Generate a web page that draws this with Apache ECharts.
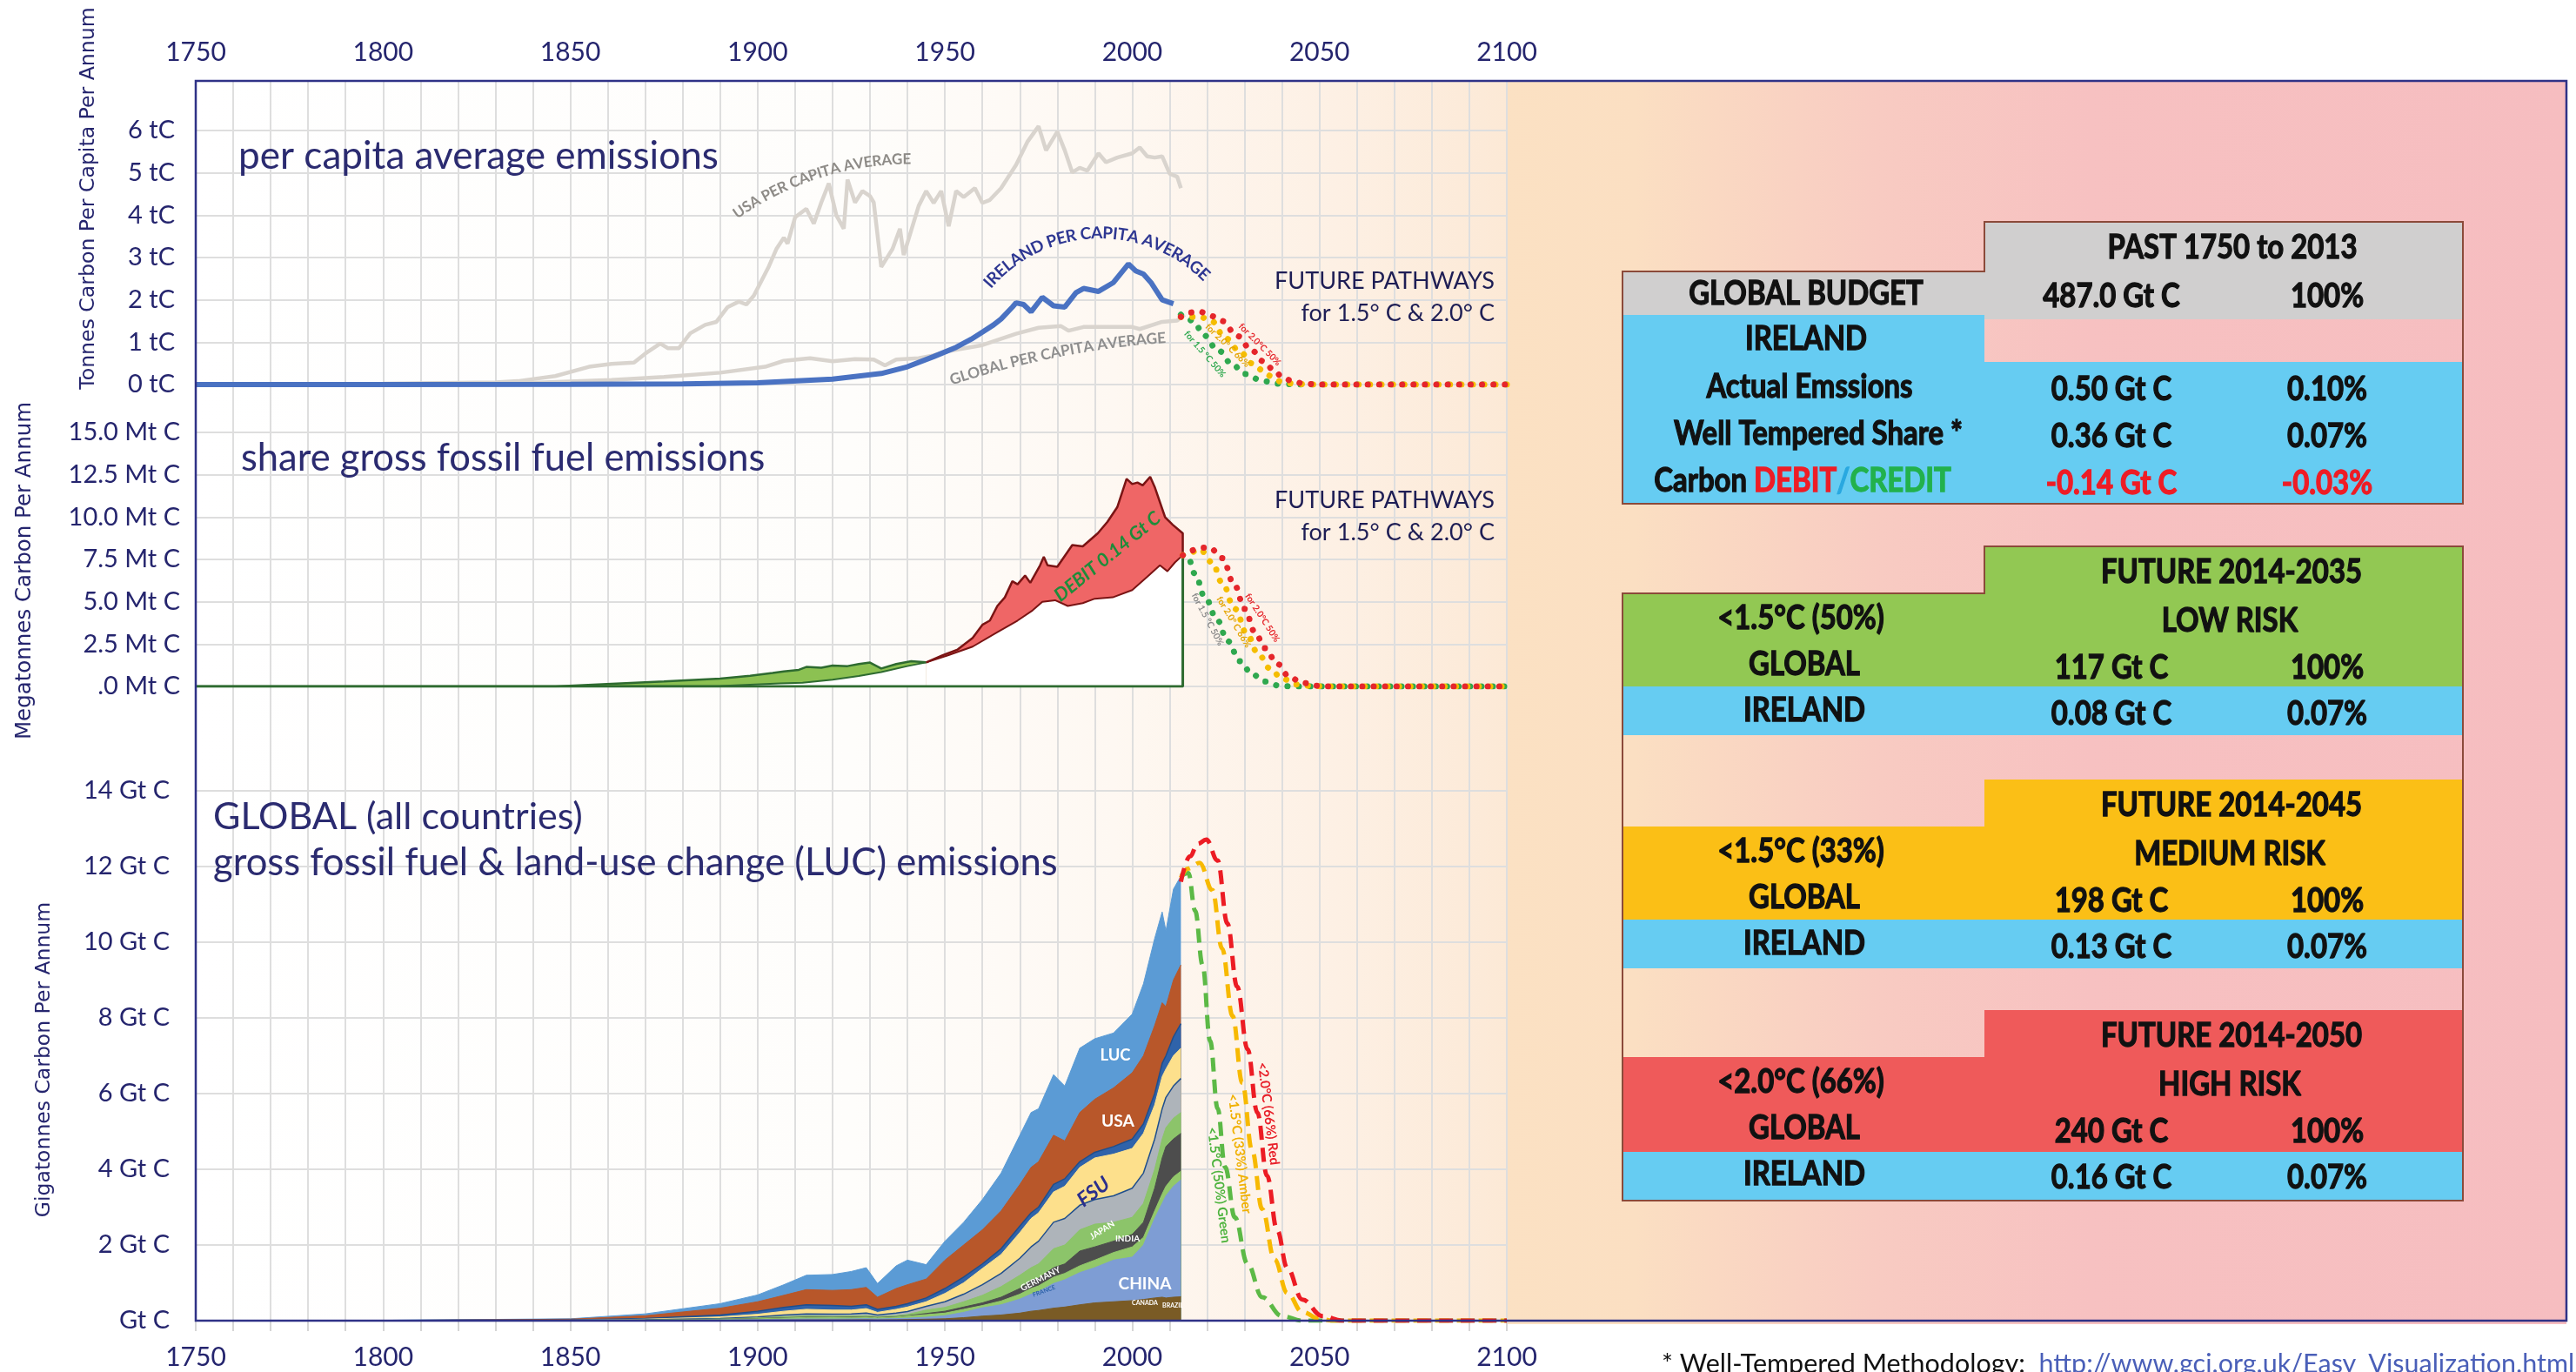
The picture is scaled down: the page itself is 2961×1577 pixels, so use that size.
<!DOCTYPE html>
<html>
<head>
<meta charset="utf-8">
<script src="https://cdn.jsdelivr.net/npm/echarts@6.0.0/dist/echarts.min.js"></script>
<style>
  html, body { margin: 0; padding: 0; background: #fff; }
  #chart { width: 2961px; height: 1577px; }
</style>
</head>
<body>
<div id="chart"></div>
<script>
const SANS = "Lato, 'Open Sans', sans-serif";
const WIDE = "'DejaVu Sans', sans-serif";
const NAVY = '#25256e';
const GRIDLINE = '#dedede';

// panel 1 - per capita, tonnes carbon per person per year
const usaPcYears = [1800, 1830, 1836, 1846, 1855, 1861, 1867, 1870, 1874, 1876, 1879, 1882, 1886, 1889, 1892, 1895, 1897, 1899, 1903, 1905,
  1907, 1908, 1910, 1913, 1915, 1917, 1919, 1921, 1923, 1924, 1926, 1928, 1930, 1931, 1933, 1935, 1936, 1938, 1939, 1943,
  1945, 1947, 1949, 1951, 1953, 1955, 1958, 1960, 1962, 1965, 1969, 1972, 1975, 1977, 1980, 1982, 1984, 1986, 1988, 1991,
  1993, 1996, 2000, 2002, 2004, 2006, 2008, 2010, 2012, 2013];
const usaPcValues = [0.02, 0.05, 0.08, 0.2, 0.42, 0.49, 0.52, 0.73, 0.97, 0.86, 0.86, 1.21, 1.41, 1.48, 1.83, 1.96, 1.89, 2.1, 2.79, 3.2,
  3.47, 3.33, 3.95, 4.15, 3.8, 4.3, 4.75, 4.0, 3.68, 4.84, 4.3, 4.57, 4.45, 4.3, 2.78, 3.06, 3.2, 3.68, 3.06, 4.22,
  4.57, 4.29, 4.57, 3.74, 4.57, 4.43, 4.64, 4.29, 4.36, 4.64, 5.19, 5.73, 6.1, 5.53, 5.97, 5.53, 5.01, 5.12, 5.05, 5.46,
  5.25, 5.36, 5.46, 5.6, 5.39, 5.36, 5.39, 4.98, 4.91, 4.64];
const globalPcYears = [1750, 1800, 1840, 1861, 1875, 1890, 1902, 1907, 1914, 1920, 1926, 1931, 1934, 1937, 1943, 1947, 1951, 1960, 1969, 1975,
  1981, 1983, 1987, 2000, 2002, 2008, 2012, 2014];
const globalPcValues = [0, 0.01, 0.04, 0.11, 0.18, 0.28, 0.42, 0.56, 0.62, 0.55, 0.6, 0.59, 0.45, 0.59, 0.62, 0.69, 0.79, 0.93, 1.2, 1.34,
  1.38, 1.27, 1.36, 1.36, 1.31, 1.48, 1.51, 1.65];
const irlPcYears = [1750, 1800, 1850, 1880, 1900, 1920, 1933, 1940, 1947, 1953, 1957, 1960, 1963, 1965, 1968, 1969, 1971, 1973, 1976, 1979,
  1982, 1985, 1987, 1991, 1995, 1999, 2001, 2003, 2005, 2008, 2011];
const irlPcValues = [0, 0, 0.005, 0.015, 0.04, 0.13, 0.26, 0.42, 0.66, 0.88, 1.07, 1.24, 1.41, 1.55, 1.83, 1.93, 1.89, 1.72, 2.06, 1.86,
  1.83, 2.17, 2.27, 2.2, 2.41, 2.85, 2.68, 2.61, 2.41, 2.0, 1.91];
// future per capita pathways
const pcGreenYears = [2013, 2015, 2017, 2019, 2023, 2027, 2030, 2035, 2039, 2045, 2100];
const pcGreenValues = [1.65, 1.55, 1.4, 1.17, 0.8, 0.45, 0.25, 0.08, 0.02, 0, 0];
const pcAmberYears = [2013, 2015, 2018, 2021, 2025, 2029, 2032, 2035, 2037, 2040, 2044, 2050, 2100];
const pcAmberValues = [1.6, 1.6, 1.6, 1.51, 1.09, 0.75, 0.5, 0.33, 0.2, 0.06, 0.01, 0, 0];
const pcRedYears = [2013, 2015, 2018, 2021, 2024, 2028, 2032, 2035, 2038, 2040, 2043, 2046, 2050, 2100];
const pcRedValues = [1.6, 1.7, 1.72, 1.62, 1.5, 1.15, 0.8, 0.55, 0.33, 0.18, 0.07, 0.02, 0, 0];

// panel 2 - Ireland share, Mt C per year
const upGreenYears = [1750, 1800, 1846, 1861, 1875, 1890, 1898, 1904, 1907, 1911, 1913, 1917, 1920, 1924, 1927, 1930, 1933, 1937, 1941, 1945];
const upGreenValues = [0, 0, 0, 0.15, 0.29, 0.46, 0.63, 0.8, 0.89, 0.98, 1.15, 1.1, 1.23, 1.2, 1.32, 1.41, 1.06, 1.32, 1.49, 1.42];
const lowGreenYears = [1750, 1850, 1890, 1906, 1912, 1920, 1927, 1933, 1940, 1945];
const lowGreenValues = [0, 0, 0.03, 0.18, 0.22, 0.4, 0.62, 0.85, 1.2, 1.42];
const upRedYears = [1945, 1949.4, 1953.4, 1957.4, 1960, 1962, 1964, 1966, 1968, 1969.4, 1971.4, 1972.8, 1975.4, 1976.4, 1977.4, 1980, 1984, 1986.8, 1990.8, 1993.4,
  1996, 1998.5, 2000, 2001.4, 2002.8, 2004.8, 2006, 2008.8, 2010.8, 2013.5, 2013.5];
const upRedValues = [1.42, 1.84, 2.18, 2.86, 3.64, 3.89, 4.75, 5.26, 6.21, 6.03, 6.55, 6.12, 7.15, 7.66, 7.15, 7.06, 8.35, 8.27, 9.04, 9.72,
  10.58, 12.26, 11.95, 12.04, 11.87, 12.38, 11.78, 9.98, 9.55, 9.04, 7.75];
const lowRedYears = [1945, 1950.8, 1957.4, 1964, 1969.4, 1973.4, 1976, 1979.4, 1982.8, 1986.8, 1990, 1994.8, 2000, 2004, 2007.4, 2009.4, 2011.4, 2013.5];
const lowRedValues = [1.42, 1.84, 2.35, 3.2, 3.89, 4.49, 5.0, 5.09, 4.75, 4.92, 5.18, 5.26, 5.69, 6.47, 7.15, 6.8, 7.32, 7.75];
const shareBaseYears = [1750, 2013.5, 2013.5];
const shareBaseValues = [0, 0, 7.75];
const shGreenYears = [2013.5, 2014.8, 2016.8, 2019.4, 2022.8, 2025.4, 2028.8, 2032, 2035.4, 2039.4, 2043, 2100];
const shGreenValues = [7.75, 7.66, 6.64, 5.26, 3.89, 2.69, 1.49, 0.72, 0.29, 0.04, 0, 0];
const shAmberYears = [2013.5, 2015.4, 2018, 2021.4, 2024, 2027.4, 2030.8, 2033.4, 2036.8, 2040, 2044, 2048, 2052, 2100];
const shAmberValues = [7.75, 7.9, 8.1, 7.32, 6.12, 4.58, 3.03, 2.0, 1.06, 0.46, 0.12, 0.03, 0, 0];
const shRedYears = [2013.5, 2015.4, 2018, 2020.7, 2024, 2027.4, 2030, 2032.8, 2035.4, 2038.8, 2042, 2045.4, 2049.4, 2053, 2100];
const shRedValues = [7.75, 8.0, 8.2, 8.18, 7.58, 5.95, 4.58, 3.2, 2.26, 1.32, 0.55, 0.21, 0.04, 0, 0];

// panel 3 - global emissions, Gt C per year, cumulative layer tops (bottom layer last)
const p3Years = [1750, 1800, 1850, 1870, 1890, 1900, 1907, 1913, 1920, 1925, 1929, 1932, 1937, 1940, 1945, 1950, 1955, 1960, 1965, 1970,
  1973, 1975, 1979, 1982, 1986, 1990, 1995, 2000, 2003, 2006, 2008, 2009, 2011, 2013];
const lucTop = [0, 0.01, 0.05, 0.18, 0.45, 0.68, 0.95, 1.2, 1.22, 1.3, 1.4, 0.98, 1.45, 1.6, 1.48, 2.1, 2.6, 3.2, 3.9, 4.9,
  5.5, 5.6, 6.5, 6.2, 7.2, 7.45, 7.6, 8.1, 8.9, 10.1, 10.8, 10.3, 11.4, 11.75];
const usaTop = [0, 0.005, 0.04, 0.13, 0.33, 0.5, 0.67, 0.82, 0.8, 0.82, 0.88, 0.62, 0.85, 0.95, 1.1, 1.6, 2.0, 2.4, 2.9, 3.6,
  4.05, 4.2, 4.9, 4.75, 5.5, 5.85, 6.15, 6.55, 7.0, 7.8, 8.4, 8.3, 9.0, 9.4];
const ukTop = [0, 0.003, 0.02, 0.06, 0.15, 0.25, 0.35, 0.42, 0.4, 0.38, 0.42, 0.3, 0.38, 0.45, 0.6, 0.85, 1.15, 1.5, 1.9, 2.5,
  2.85, 3.0, 3.6, 3.75, 4.2, 4.45, 4.6, 4.8, 5.2, 6.0, 6.8, 7.0, 7.5, 7.85];
const fsuTop = [0, 0.002, 0.012, 0.04, 0.1, 0.17, 0.25, 0.3, 0.28, 0.28, 0.32, 0.22, 0.3, 0.36, 0.5, 0.72, 1.0, 1.38, 1.75, 2.33,
  2.7, 2.85, 3.4, 3.55, 4.05, 4.3, 4.4, 4.55, 4.95, 5.7, 6.45, 6.65, 7.0, 7.2];
const otherTop = [0, 0.001, 0.008, 0.025, 0.06, 0.1, 0.15, 0.18, 0.17, 0.18, 0.2, 0.15, 0.2, 0.24, 0.38, 0.5, 0.7, 0.95, 1.25, 1.65,
  1.95, 2.1, 2.6, 2.7, 3.05, 3.2, 3.3, 3.5, 3.9, 4.8, 5.6, 5.9, 6.2, 6.4];
const japanTop = [0, 0.0005, 0.006, 0.018, 0.045, 0.075, 0.105, 0.125, 0.115, 0.125, 0.135, 0.105, 0.135, 0.165, 0.28, 0.35, 0.5, 0.67, 0.9, 1.2,
  1.4, 1.5, 1.9, 2.0, 2.4, 2.55, 2.6, 2.73, 3.1, 4.0, 4.8, 5.1, 5.35, 5.5];
const indiaTop = [0, 0, 0.005, 0.014, 0.035, 0.058, 0.08, 0.095, 0.09, 0.095, 0.105, 0.085, 0.105, 0.13, 0.19, 0.25, 0.36, 0.47, 0.62, 0.85,
  1.05, 1.12, 1.4, 1.5, 1.84, 1.95, 2.1, 2.28, 2.6, 3.5, 4.3, 4.6, 4.8, 4.95];
const germanyTop = [0, 0, 0.004, 0.012, 0.03, 0.05, 0.07, 0.085, 0.08, 0.085, 0.095, 0.075, 0.095, 0.12, 0.16, 0.2, 0.3, 0.4, 0.52, 0.7,
  0.85, 0.92, 1.15, 1.25, 1.45, 1.6, 1.8, 1.95, 2.2, 2.9, 3.35, 3.55, 3.8, 3.95];
const chinaTop = [0, 0, 0.003, 0.008, 0.018, 0.028, 0.038, 0.045, 0.043, 0.047, 0.052, 0.045, 0.055, 0.065, 0.09, 0.13, 0.22, 0.34, 0.42, 0.57,
  0.7, 0.77, 0.98, 1.08, 1.27, 1.4, 1.6, 1.68, 2.0, 2.7, 3.1, 3.3, 3.55, 3.72];
const canadaTop = [0, 0, 0.002, 0.005, 0.01, 0.015, 0.018, 0.02, 0.02, 0.022, 0.025, 0.02, 0.025, 0.03, 0.04, 0.05, 0.08, 0.12, 0.15, 0.2,
  0.25, 0.27, 0.33, 0.36, 0.42, 0.47, 0.5, 0.53, 0.56, 0.6, 0.62, 0.6, 0.62, 0.63];
// future global pathways
const glGreenYears = [2013, 2015, 2016.8, 2018.8, 2020.8, 2022.8, 2024.8, 2027.4, 2030.8, 2034.7, 2040, 2045.4, 2100];
const glGreenValues = [11.75, 11.83, 10.83, 9.39, 7.39, 5.61, 4.06, 2.73, 1.5, 0.62, 0.12, 0, 0];
const glAmberYears = [2013, 2014.8, 2018, 2021.4, 2024, 2026.8, 2029.4, 2032, 2034.7, 2038, 2041.4, 2045.4, 2050, 2053.4, 2100];
const glAmberValues = [11.7, 11.94, 12.1, 11.38, 9.83, 8.05, 6.28, 4.5, 2.95, 1.62, 0.73, 0.23, 0.05, 0, 0];
const glRedYears = [2013, 2015.4, 2017.5, 2019.8, 2022.8, 2025.4, 2028, 2030.8, 2033.4, 2036, 2038.7, 2041.4, 2045.4, 2050.8, 2056, 2100];
const glRedValues = [11.6, 12.27, 12.6, 12.71, 12.16, 10.5, 8.83, 7.17, 5.5, 3.83, 2.39, 1.39, 0.56, 0.12, 0, 0];

// budget tables
const pastHeader = 'PAST 1750 to 2013';
const pastGlobal = ['GLOBAL BUDGET', '487.0 Gt C', '100%'];
const pastRows = [
  ['Actual Emssions', '0.50 Gt C', '0.10%'],
  ['Well Tempered Share *', '0.36 Gt C', '0.07%']
];
const pastBalance = ['-0.14 Gt C', '-0.03%'];
const futurePeriods = ['FUTURE 2014-2035', 'FUTURE 2014-2045', 'FUTURE 2014-2050'];
const futureRisks = ['LOW RISK', 'MEDIUM RISK', 'HIGH RISK'];
const futureTargets = ['<1.5°C (50%)', '<1.5°C (33%)', '<2.0°C (66%)'];
const futureGlobal = ['117 Gt C', '198 Gt C', '240 Gt C'];
const futureIreland = ['0.08 Gt C', '0.13 Gt C', '0.16 Gt C'];
const futureShare = ['0.07%', '0.07%', '0.07%'];
const futureColors = ['#92c853', '#fbbf16', '#ef5a5a'];

function pairs(xs, ys) { return xs.map((x, i) => [x, ys[i]]); }

function line(panel, xs, ys, lineStyle, extra) {
  return Object.assign({
    type: 'line', xAxisIndex: panel + 1, yAxisIndex: panel,
    data: pairs(xs, ys), symbol: 'none', silent: true, lineStyle: lineStyle
  }, extra || {});
}
const dots = c => ({ color: c, width: 7, type: [0.1, 13], cap: 'round' });
const dashes = c => ({ color: c, width: 5, type: [16, 9] });
const curve = { smooth: 0.4, smoothMonotone: 'x' };

const layers = [
  [lucTop, '#5b9bd5'], [usaTop, '#b8572a'], [ukTop, '#2f63aa'], [fsuTop, '#fde08c'],
  [otherTop, '#aeb4ba'], [japanTop, '#8cc46a'], [indiaTop, '#4d4d4d'], [germanyTop, '#92c86a'],
  [chinaTop, '#7e9dd4'], [canadaTop, '#7a5b25']
];

const series = [
  line(1, usaPcYears, usaPcValues, { color: '#d9d4ce', width: 4.5 }, { clip: false }),
  line(1, globalPcYears, globalPcValues, { color: '#d9d4ce', width: 4.5 }),
  line(1, irlPcYears, irlPcValues, { color: '#4a72c2', width: 6 }),
  line(1, pcGreenYears, pcGreenValues, dots('#2fa84f'), curve),
  line(1, pcAmberYears, pcAmberValues, dots('#f5bd00'), curve),
  line(1, pcRedYears, pcRedValues, dots('#e5262b'), curve),

  line(2, upGreenYears, upGreenValues, { color: '#2e6b30', width: 2.5 }, { areaStyle: { color: '#8cc152', opacity: 1 } }),
  line(2, upRedYears, upRedValues, { color: '#7a1414', width: 2.5 }, { areaStyle: { color: '#ef6666', opacity: 1 } }),
  line(2, lowGreenYears, lowGreenValues, { color: '#2e6b30', width: 2 }, { areaStyle: { color: '#ffffff', opacity: 1 } }),
  line(2, lowRedYears, lowRedValues, { color: '#7a1414', width: 2 }, { areaStyle: { color: '#ffffff', opacity: 1 } }),
  line(2, shareBaseYears, shareBaseValues, { color: '#2e6b30', width: 3 }),
  line(2, shGreenYears, shGreenValues, dots('#2fa84f'), curve),
  line(2, shAmberYears, shAmberValues, dots('#f5bd00'), curve),
  line(2, shRedYears, shRedValues, dots('#e5262b'), curve)
];
layers.forEach(([vals, color], i) => {
  const edge = i === 2 || i === 4 ? '#1f4e8c' : color;
  series.push(line(3, p3Years, vals, { color: edge, width: i === 2 || i === 4 ? 1.5 : 1 }, { areaStyle: { color: color, opacity: 1 } }));
});
series.push(line(3, glGreenYears, glGreenValues, dashes('#5cb946'), curve));
series.push(line(3, glAmberYears, glAmberValues, dashes('#f7b900'), curve));
series.push(line(3, glRedYears, glRedValues, dashes('#ec1c24'), curve));

// ---------- graphic overlay: background, frame, texts, tables
const G = [];
const measure = document.createElement('canvas').getContext('2d');
// font string sized so that the text spans the given width
function fit(text, width, weight, family) {
  const f = (weight ? weight + ' ' : '') + '100px ' + (family || SANS);
  measure.font = f;
  const size = 100 * width / measure.measureText(text).width;
  return (weight ? weight + ' ' : '') + size.toFixed(1) + 'px ' + (family || SANS);
}
function txt(x, y, text, font, fill, align, rot, extra) {
  return {
    type: 'text', x: x, y: y, z: 100, silent: true, rotation: rot || 0,
    style: Object.assign({ text: text, font: font, fill: fill, align: align || 'center', verticalAlign: 'middle' }, extra || {})
  };
}
// table cell text: heavier and a touch taller, like the condensed bold original
function cell(x, y, text, font, fill, extra) {
  const el = txt(x, y, text, font, fill, 'center', 0, Object.assign({ stroke: fill, lineWidth: 1.1 }, extra || {}));
  el.scaleY = 1.15;
  return el;
}
function box(x, y, w, h, fill) {
  return { type: 'rect', z: 40, silent: true, shape: { x: x, y: y, width: w, height: h }, style: { fill: fill } };
}
function outline(pts) {
  return { type: 'polygon', z: 45, silent: true, shape: { points: pts }, style: { fill: 'none', stroke: '#8b4a3a', lineWidth: 2 } };
}
function arcText(str, cx, cy, r, midDeg, font, fill) {
  measure.font = font;
  const chars = Array.from(str);
  const widths = chars.map(c => measure.measureText(c).width);
  const total = widths.reduce((a, b) => a + b, 0);
  let s = -total / 2;
  chars.forEach((c, i) => {
    const mid = s + widths[i] / 2;
    s += widths[i];
    const th = midDeg * Math.PI / 180 + mid / r;
    G.push(txt(cx + r * Math.cos(th), cy + r * Math.sin(th), c, font, fill, 'center', -(th + Math.PI / 2)));
  });
}
const deg = d => d * Math.PI / 180;

G.push({ type: 'rect', z: -100, silent: true, shape: { x: 225, y: 93, width: 1507, height: 1425 },
  style: { fill: { type: 'linear', x: 0, y: 0, x2: 1, y2: 0, colorStops: [
    { offset: 0, color: '#ffffff' }, { offset: 0.5, color: '#fefdfb' }, { offset: 0.7, color: '#fef8f2' },
    { offset: 0.87, color: '#fdf0e4' }, { offset: 1, color: '#fce9d6' }] } } });
G.push({ type: 'rect', z: -100, silent: true, shape: { x: 1732, y: 93, width: 1218, height: 1429 },
  style: { fill: { type: 'linear', x: 0, y: 0, x2: 1, y2: 0, colorStops: [
    { offset: 0, color: '#fbe1c3' }, { offset: 0.12, color: '#fbdfc2' }, { offset: 0.35, color: '#f8cbc2' },
    { offset: 0.55, color: '#f7c1c1' }, { offset: 1, color: '#f6bdc0' }] } } });
G.push({ type: 'rect', z: 60, silent: true, shape: { x: 225, y: 93, width: 2725, height: 1425 },
  style: { fill: 'none', stroke: '#2f3287', lineWidth: 2.5 } });

// axis titles
G.push(txt(102, 228, 'Tonnes Carbon Per Capita Per Annum', fit('Tonnes Carbon Per Capita Per Annum', 440, '', WIDE), NAVY, 'center', Math.PI / 2));
G.push(txt(29, 656, 'Megatonnes Carbon Per Annum', fit('Megatonnes Carbon Per Annum', 388, '', WIDE), NAVY, 'center', Math.PI / 2));
G.push(txt(51, 1218, 'Gigatonnes Carbon Per Annum', fit('Gigatonnes Carbon Per Annum', 363, '', WIDE), NAVY, 'center', Math.PI / 2));

// panel titles
const TITLE_C = '#2b2b70';
G.push(txt(274, 180, 'per capita average emissions', fit('per capita average emissions', 552), TITLE_C, 'left'));
G.push(txt(277, 527, 'share gross fossil fuel emissions', fit('share gross fossil fuel emissions', 602), TITLE_C, 'left'));
G.push(txt(245, 939, 'GLOBAL (all countries)', fit('GLOBAL (all countries)', 425), TITLE_C, 'left'));
G.push(txt(245, 992, 'gross fossil fuel & land-use change (LUC) emissions', fit('gross fossil fuel & land-use change (LUC) emissions', 970), TITLE_C, 'left'));
const FP = fit('FUTURE PATHWAYS', 253);
[[323, 360], [575, 612]].forEach(([a, b]) => {
  G.push(txt(1718, a, 'FUTURE PATHWAYS', FP, '#1e1e55', 'right'));
  G.push(txt(1718, b, 'for 1.5° C & 2.0° C', FP, '#1e1e55', 'right'));
});

// curved per-capita labels
arcText('USA PER CAPITA AVERAGE', 1046, 531, 348, -107.6, fit('USA PER CAPITA AVERAGE', 214, 'bold'), '#8e8b87');
arcText('IRELAND PER CAPITA AVERAGE', 1265, 440, 172, -92, fit('IRELAND PER CAPITA AVERAGE', 282, 'bold'), '#2e3792');
arcText('GLOBAL PER CAPITA AVERAGE', 1409, 1387, 1001, -101.2, fit('GLOBAL PER CAPITA AVERAGE', 251, 'bold'), '#8e8e8e');

// pathway labels
const SMALL = fit('for 2.0°C 50%', 64, 'bold');
G.push(txt(1385, 407, 'for 1.5 °C 50%', SMALL, '#2fa84f', 'center', deg(-49)));
G.push(txt(1411, 397, 'for 2.0° C 66%', SMALL, '#e3a400', 'center', deg(-44)));
G.push(txt(1448, 396, 'for 2.0°C 50%', SMALL, '#e5262b', 'center', deg(-45)));
G.push(txt(1388, 712, 'for 1.5 °C 50%', SMALL, '#8a8a8a', 'center', deg(-62)));
G.push(txt(1418, 715, 'for 2.0° C 66%', SMALL, '#e3a400', 'center', deg(-59)));
G.push(txt(1451, 710, 'for 2.0°C 50%', SMALL, '#e5262b', 'center', deg(-57)));
G.push(txt(1273, 640, 'DEBIT 0.14 Gt C', fit('DEBIT 0.14 Gt C', 150, 'italic bold'), '#1e8c3a', 'center', deg(39)));
const PATH = fit('<2.0°C (66%) Red', 119, 'bold');
G.push(txt(1458, 1280, '<2.0°C (66%) Red', PATH, '#e8202a', 'center', deg(-83)));
G.push(txt(1425, 1326, '<1.5°C (33%) Amber', PATH, '#f0b000', 'center', deg(-83)));
G.push(txt(1401, 1362, '<1.5°C (50%) Green', PATH, '#4db33d', 'center', deg(-83)));

// country labels
G.push(txt(1282, 1213, 'LUC', fit('LUC', 35, 'bold'), '#ffffff'));
G.push(txt(1285, 1289, 'USA', fit('USA', 38, 'bold'), '#ffffff'));
G.push(txt(1257, 1370, 'FSU', fit('FSU', 40, 'italic bold'), '#2b2f8c', 'center', deg(37)));
G.push(txt(1267, 1414, 'JAPAN', `bold 10px ${SANS}`, '#ffffff', 'center', deg(32)));
G.push(txt(1296, 1424, 'INDIA', `bold 10px ${SANS}`, '#ffffff'));
G.push(txt(1196, 1470, 'GERMANY', `bold 10px ${SANS}`, '#ffffff', 'center', deg(27)));
G.push(txt(1200, 1484, 'FRANCE', `bold 7px ${SANS}`, '#2f63aa', 'center', deg(20)));
G.push(txt(1316, 1476, 'CHINA', fit('CHINA', 61, 'bold'), '#ffffff'));
G.push(txt(1316, 1498, 'CANADA', `bold 7px ${SANS}`, '#ffffff'));
G.push(txt(1348, 1501, 'BRAZIL', `bold 7px ${SANS}`, '#ffffff'));

// past budget table
const TF = fit('FUTURE 2014-2035', 300, 'bold');
const GRAY = '#d0cfcf', BLUE = '#66ccf2';
G.push(box(2281, 255, 550, 112, GRAY));
G.push(box(1865, 312, 416, 50, GRAY));
G.push(box(1865, 362, 416, 54, BLUE));
G.push(box(1865, 416, 966, 163, BLUE));
G.push(outline([[2281, 255], [2831, 255], [2831, 579], [1865, 579], [1865, 312], [2281, 312]]));
const C1 = 2076, C2 = 2427, C3 = 2675;
G.push(cell(2566, 285, pastHeader, TF, '#111'));
G.push(cell(C1, 338, pastGlobal[0], TF, '#111'));
G.push(cell(C2, 341, pastGlobal[1], TF, '#111'));
G.push(cell(C3, 341, pastGlobal[2], TF, '#111'));
G.push(cell(C1, 390, 'IRELAND', TF, '#111'));
pastRows.forEach((row, i) => {
  const y = 445 + i * 54;
  G.push(cell(C1 + (i ? 14 : 4), y, row[0], TF, '#111'));
  G.push(cell(C2, y + 3, row[1], TF, '#111'));
  G.push(cell(C3, y + 3, row[2], TF, '#111'));
});
G.push(cell(C1 - 4, 553, '{a|Carbon }{r|DEBIT}{s|/}{g|CREDIT}', TF, '#111', {
  stroke: null, lineWidth: 0,
  rich: {
    a: { font: TF, fill: '#111', stroke: '#111', lineWidth: 1.1 }, r: { font: TF, fill: '#ee1c25', stroke: '#ee1c25', lineWidth: 1.1 },
    s: { font: TF, fill: '#29a8e0', stroke: '#29a8e0', lineWidth: 1.1 }, g: { font: TF, fill: '#22b14c', stroke: '#22b14c', lineWidth: 1.1 }
  }
}));
G.push(cell(C2, 556, pastBalance[0], TF, '#ee1c25'));
G.push(cell(C3, 556, pastBalance[1], TF, '#ee1c25'));

// future budget tables
[628, 896, 1161].forEach((T, i) => {
  const col = futureColors[i];
  G.push(box(2281, T, 550, 54, col));
  G.push(box(1865, T + 54, 966, 107 + (i === 2 ? 2 : 0), col));
  G.push(box(1865, T + 161 + (i === 2 ? 2 : 0), 966, 56, BLUE));
  G.push(cell(2565, T + 30, futurePeriods[i], TF, '#111'));
  G.push(cell(2070, T + 83, futureTargets[i], TF, '#111'));
  G.push(cell(2563, T + 86, futureRisks[i], TF, '#111'));
  G.push(cell(C1 - 2, T + 136, 'GLOBAL', TF, '#111'));
  G.push(cell(C2, T + 140, futureGlobal[i], TF, '#111'));
  G.push(cell(C3, T + 140, '100%', TF, '#111'));
  G.push(cell(C1 - 2, T + 189, 'IRELAND', TF, '#111'));
  G.push(cell(C2, T + 193, futureIreland[i], TF, '#111'));
  G.push(cell(C3, T + 193, futureShare[i], TF, '#111'));
});
G.push(outline([[2281, 628], [2831, 628], [2831, 1380], [1865, 1380], [1865, 682], [2281, 682]]));

// footnote
const FN = fit('* Well-Tempered Methodology:  http://www.gci.org.uk/Easy_Visualization.html', 1050);
G.push(txt(1910, 1568, '{a|* Well-Tempered Methodology:  }{b|http://www.gci.org.uk/Easy_Visualization.html}', FN, '#111', 'left', 0, {
  rich: { a: { font: FN, fill: '#111' }, b: { font: FN, fill: '#4a5fb8' } }
}));

const tickFont = { color: NAVY, fontFamily: SANS, fontSize: 29 };
const panelY = (grid, max, interval, fmt, margin) => ({
  gridIndex: grid, type: 'value', min: 0, max: max, interval: interval,
  axisLine: { show: false }, axisTick: { show: false },
  splitLine: { show: true, lineStyle: { color: GRIDLINE, width: 2 } },
  axisLabel: Object.assign({ formatter: fmt, margin: margin }, tickFont)
});
const hiddenX = g => ({ gridIndex: g, type: 'value', min: 1750, max: 2100, show: false });
const yearLabel = v => (v % 50 === 0 ? String(v) : '');

const option = {
  animation: false,
  backgroundColor: '#ffffff',
  grid: [
    { left: 225, right: 1229, top: 93, bottom: 59, outerBoundsMode: 'none' },
    { left: 225, right: 1229, top: 150, height: 292, outerBoundsMode: 'none' },
    { left: 225, right: 1229, top: 497, height: 292, outerBoundsMode: 'none' },
    { left: 225, right: 1229, top: 909, height: 609, outerBoundsMode: 'none' }
  ],
  xAxis: [
    { gridIndex: 0, type: 'value', position: 'top', min: 1750, max: 2100, interval: 10,
      axisLine: { show: false }, axisTick: { show: false },
      splitLine: { show: true, lineStyle: { color: GRIDLINE, width: 2 } },
      axisLabel: Object.assign({ formatter: yearLabel, margin: 18, showMinLabel: true, showMaxLabel: true }, tickFont, { fontSize: 30 }) },
    { gridIndex: 0, type: 'value', position: 'bottom', min: 1750, max: 2100, interval: 10,
      axisLine: { show: false }, axisTick: { show: true, length: 12, lineStyle: { color: '#d6d6d6', width: 2 } },
      splitLine: { show: false },
      axisLabel: Object.assign({ formatter: yearLabel, margin: 27, showMinLabel: true, showMaxLabel: true }, tickFont, { fontSize: 30 }) },
    hiddenX(1), hiddenX(2), hiddenX(3)
  ],
  yAxis: [
    { gridIndex: 0, type: 'value', min: 0, max: 1, show: false },
    panelY(1, 6, 1, v => v + ' tC', 24),
    panelY(2, 15, 2.5, v => (v === 0 ? '.0' : v.toFixed(1)) + ' Mt C', 18),
    panelY(3, 14, 2, v => (v === 0 ? 'Gt C' : v + ' Gt C'), 30)
  ],
  series: series,
  graphic: { elements: G }
};

const chart = echarts.init(document.getElementById('chart'));
chart.setOption(option);
</script>
</body>
</html>
